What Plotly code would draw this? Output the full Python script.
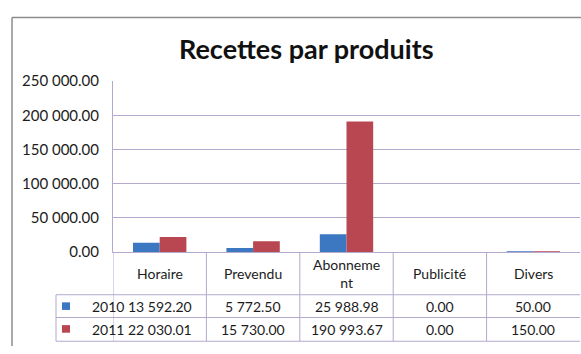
import plotly.graph_objects as go

# Revenue by product, two years
categories = ["Horaire", "Prevendu", "Abonnement", "Publicité", "Divers"]
header_labels = ["Horaire", "Prevendu", "Abonneme<br>nt", "Publicité", "Divers"]
years = ["2010", "2011"]
values_2010 = [13592.20, 5772.50, 25988.98, 0.00, 50.00]
values_2011 = [22030.01, 15730.00, 190993.67, 0.00, 150.00]
tick_values = [0, 50000, 100000, 150000, 200000, 250000]

W, H = 581, 354
BLUE = "#3b78c1"
RED = "#b94752"
GRID = "#b4a8cc"
TEXT = "#1c1c1c"
FONT = "Lato"


def fmt(v):
    return f"{v:,.2f}".replace(",", " ")


def px(x):
    return x / W


def py(y):
    return 1 - y / H


# plot-area geometry in pixels
left, right = 113, 580
top, zero = 75, 255
row_lines = [300, 324, 349]
key_left = 56

fig = go.Figure()
fig.add_trace(go.Bar(x=categories, y=values_2010, name=years[0],
                     marker=dict(color=BLUE, line=dict(width=0))))
fig.add_trace(go.Bar(x=categories, y=values_2011, name=years[1],
                     marker=dict(color=RED, line=dict(width=0))))

shapes = []
line_style = dict(color=GRID, width=1)
# horizontal table rules
for y in row_lines:
    shapes.append(dict(type="line", xref="paper", yref="paper",
                       x0=px(key_left), x1=px(right), y0=py(y), y1=py(y),
                       line=line_style))
# vertical table rules at category boundaries
n = len(categories)
for i in range(n):
    shapes.append(dict(type="line", xref="x", yref="paper",
                       x0=i - 0.5, x1=i - 0.5, y0=py(zero), y1=py(row_lines[-1]),
                       line=line_style))
shapes.append(dict(type="line", xref="paper", yref="paper",
                   x0=px(key_left), x1=px(key_left),
                   y0=py(row_lines[0]), y1=py(row_lines[-1]), line=line_style))
# legend keys in the table
for color, y0 in [(BLUE, 308), (RED, 332)]:
    shapes.append(dict(type="rect", xref="paper", yref="paper",
                       x0=px(62), x1=px(70), y0=py(y0), y1=py(y0 + 8),
                       fillcolor=color, line=dict(width=0)))
# outer chart border (top and left)
shapes.append(dict(type="line", xref="paper", yref="paper",
                   x0=px(12), x1=1, y0=py(8), y1=py(8),
                   line=dict(color="#8c8c8c", width=1.5)))
shapes.append(dict(type="line", xref="paper", yref="paper",
                   x0=px(12), x1=px(12), y0=py(8), y1=0,
                   line=dict(color="#8c8c8c", width=1.5)))

annotations = []
cell_font = dict(family=FONT, size=14, color=TEXT)
for i, lab in enumerate(header_labels):
    annotations.append(dict(x=i, xref="x", y=py(277.5), yref="paper",
                            text=lab, showarrow=False, font=cell_font,
                            align="center", yanchor="middle"))
for row_y, vals in [(312, values_2010), (336.5, values_2011)]:
    for i, v in enumerate(vals):
        annotations.append(dict(x=i, xref="x", y=py(row_y), yref="paper",
                                text=fmt(v), showarrow=False, font=cell_font,
                                yanchor="middle"))
for row_y, yr in [(312, years[0]), (336.5, years[1])]:
    annotations.append(dict(x=px(90), xref="paper", y=py(row_y), yref="paper",
                            text=yr, showarrow=False, font=cell_font,
                            yanchor="middle"))
annotations.append(dict(x=px(306), xref="paper", y=py(41), yref="paper",
                        text="<b>Recettes par produits</b>", showarrow=False,
                        font=dict(family=FONT, size=27, color="#111111"),
                        yanchor="middle"))

fig.update_layout(
    width=W, height=H,
    margin=dict(l=0, r=0, t=0, b=0),
    paper_bgcolor="white", plot_bgcolor="white",
    barmode="group", bargap=1.5 / 3.5, bargroupgap=0,
    showlegend=False,
    shapes=shapes, annotations=annotations,
    xaxis=dict(domain=[px(left), px(right)], range=[-0.5, n - 0.5],
               showticklabels=False, ticks="", showgrid=False, zeroline=False,
               showline=True, linecolor=GRID, linewidth=1),
    yaxis=dict(domain=[py(zero), py(top)], range=[0, 250000],
               tickvals=tick_values, ticktext=[fmt(v) for v in tick_values],
               tickfont=dict(family=FONT, size=15, color=TEXT),
               ticks="", ticklabelstandoff=10,
               showgrid=True, gridcolor=GRID, gridwidth=1, zeroline=False,
               showline=True, linecolor=GRID, linewidth=1),
)

fig.write_html("out.html", config={"displayModeBar": False})
